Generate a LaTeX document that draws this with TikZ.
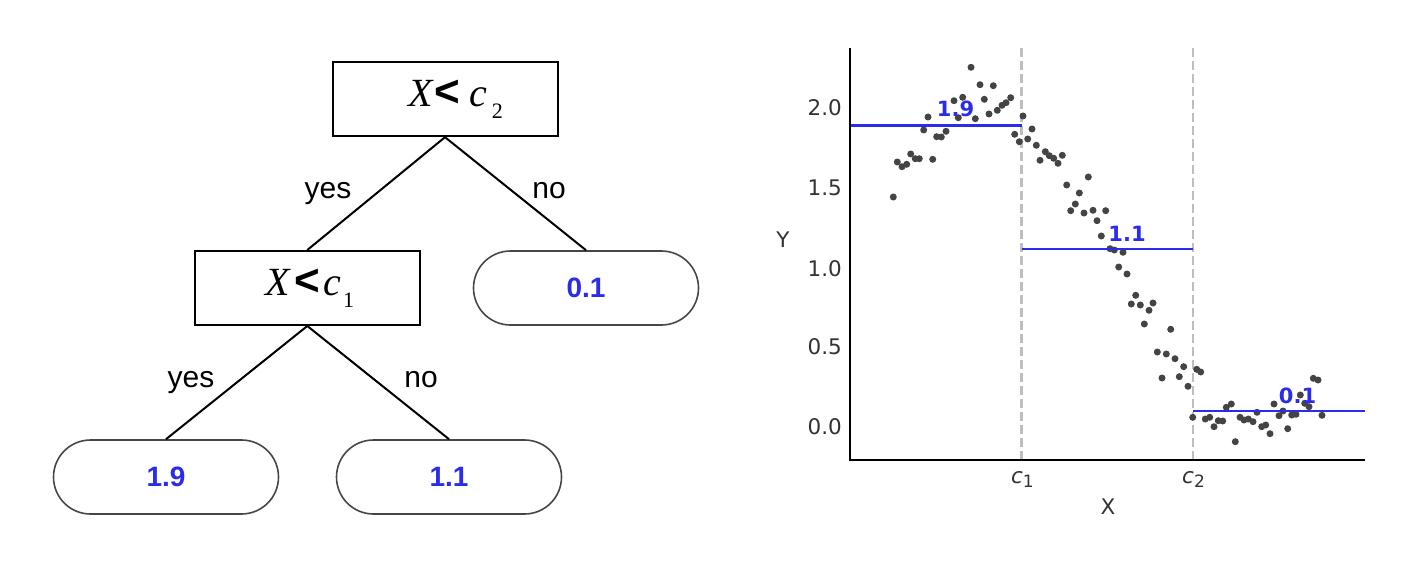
\documentclass[tikz,border=0pt]{standalone}
\usepackage{fontspec}
\setmainfont{Liberation Sans}
\newfontfamily\tms{Liberation Serif}
\newfontfamily\dvs{DejaVu Sans}
\newcommand\fsz[1]{\fontsize{#1}{#1}\selectfont}
\definecolor{tblue}{RGB}{43,43,235}
\definecolor{dotc}{RGB}{68,68,68}
\definecolor{tickc}{RGB}{50,50,50}
\definecolor{dashc}{RGB}{190,190,190}
\definecolor{leafc}{RGB}{70,70,70}
\begin{document}
\begin{tikzpicture}[x=1pt,y=-1pt,
  dbox/.style={draw=black, line width=2pt, minimum width=225pt, minimum height=74pt, inner sep=0pt},
  leaf/.style={draw=leafc, line width=1.6pt, rounded corners=37pt, minimum width=225pt, minimum height=74pt, inner sep=0pt, font=\fsz{28}\bfseries, text=tblue},
  edge/.style={line width=2pt, black},
  elab/.style={font=\fsz{30}, anchor=base, inner sep=0pt},
  ticklab/.style={font=\dvs\fsz{21.5}, text=tickc, anchor=east, inner sep=0pt},
  axlab/.style={font=\dvs\fsz{21.5}, text=tickc, inner sep=0pt},
  vlab/.style={font=\dvs\fsz{21}\bfseries, text=tblue, anchor=base, inner sep=0pt},
  cutline/.style={dashc, line width=2.2pt, dash pattern=on 9pt off 4pt},
  meanline/.style={tblue, line width=2.6pt},
  axisline/.style={black, line width=1.6pt}
]
\useasboundingbox (0,0) rectangle (1403,567);
% ---------------- tree ----------------
\node[dbox] (r) at (445,99.2) {\hspace{21pt}{\tms\itshape\fsz{40}X}\hspace{2pt}{\bfseries\fsz{44}<}\hspace{9pt}{\tms\itshape\fsz{40}c}\hspace{5pt}\raisebox{-12pt}{\tms\fsz{22}2}};
\node[dbox] (b) at (307.3,288) {\hspace{5pt}{\tms\itshape\fsz{40}X}\hspace{5pt}{\bfseries\fsz{44}<}\hspace{3pt}{\tms\itshape\fsz{40}c}\hspace{2pt}\raisebox{-12pt}{\tms\fsz{22}1}};
\node[leaf] (l3) at (586,288) {0.1};
\node[leaf] (l1) at (166,477) {1.9};
\node[leaf] (l2) at (449,477) {1.1};
\draw[edge] (r.south) -- (b.north);
\draw[edge] (r.south) -- (l3.north);
\draw[edge] (b.south) -- (l1.north);
\draw[edge] (b.south) -- (l2.north);
\node[elab] (e1) at (328,198.3) {yes};
\node[elab] (e2) at (549,198.3) {no};
\node[elab] (e3) at (191,387.3) {yes};
\node[elab] (e4) at (421,387.3) {no};
% ---------------- plot ----------------
\coordinate (o) at (850,460);
\coordinate (ytop) at (850,48);
\coordinate (xend) at (1365,460);
\coordinate (c1t) at (1021.5,48);
\coordinate (c1b) at (1021.5,460);
\coordinate (c2t) at (1193.3,48);
\coordinate (c2b) at (1193.3,460);
\draw[cutline] (c1t) -- (c1b);
\draw[cutline] (c2t) -- (c2b);
\foreach \x/\y in {893.3/197, 897.3/162, 902/166.7, 906.7/164.3, 910.7/154, 915.3/158.7, 919.3/158.7, 932.7/159.3, 923.7/130, 928/117, 936.7/136.7, 941.3/137, 946/131.3, 954/100.7, 958.3/117.7, 962.7/97.3, 971/67.3, 975.3/118.7, 980/84.7, 984.3/99.3, 989/114, 993.3/85.7, 997.3/110.3, 1002/105.3, 1006/102.7, 1010.7/97.7, 1014.7/134.3, 1019.3/141.7, 1023/116, 1027.7/139, 1032/129, 1036.3/145.3, 1040/160.3,
 1045.3/151.7, 1049.3/155.7, 1053.7/158.3, 1058/163.3, 1062.3/155.3, 1066.7/185, 1070.7/210.7, 1075.3/204, 1079.3/193, 1084/213, 1088.3/177, 1093/210.3, 1097/220.7, 1101.3/236, 1105.7/210.7, 1110/248.7, 1114.3/250, 1123/252.3, 1118.7/267, 1127/274, 1135.7/295.3, 1131.3/304, 1140.3/305, 1149/310.3, 1153/303, 1144.3/324, 1170.7/329.3,
 1157.3/352, 1166.3/354, 1175/358.7, 1183.7/366.7, 1162/378, 1179.3/376.7, 1188/386.3, 1196.7/369.3, 1200.7/372, 1192.7/417.3, 1205.3/419, 1209.7/417.3, 1214/426.7, 1218.3/420.7, 1222.7/421, 1226.3/407.3, 1231.3/404, 1235.3/441.7, 1240/417.3, 1244/420, 1248.3/419, 1253/421.7, 1257/412.3, 1261.7/426.7, 1265.7/425, 1270/433.7, 1274/404, 1279/415.7, 1283/411, 1287.7/428.7, 1291.7/415, 1296/414.3, 1300.3/395, 1304.7/403.3, 1309/406.7, 1313.3/378.3, 1318/380, 1322/415.3}
  \fill[dotc] (\x,\y) circle (3.5pt);
\coordinate (m1a) at (850,125.5);
\coordinate (m1b) at (1021.5,125.5);
\coordinate (m2a) at (1021.5,249);
\coordinate (m2b) at (1193.3,249);
\coordinate (m3a) at (1193.3,411);
\coordinate (m3b) at (1365,411);
\draw[meanline] (m1a) -- (m1b);
\draw[meanline] (m2a) -- (m2b);
\draw[meanline] (m3a) -- (m3b);
\draw[axisline] (ytop) -- (o) -- (xend);
\node[vlab] (v1) at (955.5,117) {1.9};
\node[vlab] (v2) at (1127,241.7) {1.1};
\node[vlab] (v3) at (1297.5,403) {0.1};
\node[ticklab] (t20) at (842,107.8) {2.0};
\node[ticklab] (t15) at (842,188.3) {1.5};
\node[ticklab] (t10) at (842,268.3) {1.0};
\node[ticklab] (t05) at (842,346.7) {0.5};
\node[ticklab] (t00) at (842,427) {0.0};
\node[axlab] (ylab) at (783,240) {Y};
\node[axlab] (xlab) at (1108,507) {X};
\node[axlab, anchor=base] (c1lab) at (1022.4,483) {{\itshape c}\raisebox{-4.7pt}{\fsz{17}1}};
\node[axlab, anchor=base] (c2lab) at (1193.5,483) {{\itshape c}\raisebox{-4.7pt}{\fsz{17}2}};
\end{tikzpicture}
\end{document}
